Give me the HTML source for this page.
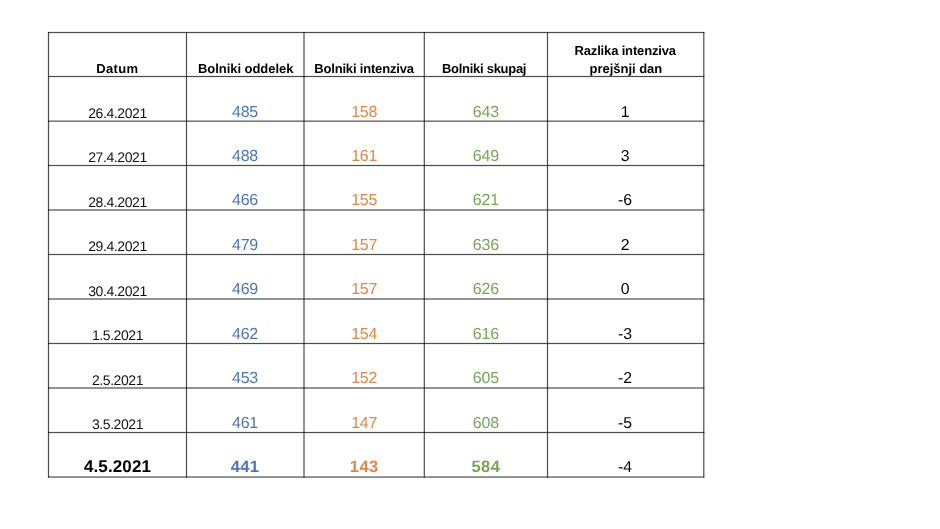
<!DOCTYPE html>
<html lang="sl"><head><meta charset="utf-8"><title>Bolniki</title>
<style>
html,body{margin:0;padding:0;background:#fff}
body{width:940px;height:529px;position:relative;overflow:hidden;font-family:"Liberation Sans",sans-serif;color:#111;text-rendering:geometricPrecision}
svg.grid{position:absolute;left:0;top:0}
.t{position:absolute;white-space:nowrap;transform:translateX(-50%);line-height:1;text-align:center}
.hd{font-weight:bold;font-size:13.0px;color:#000}
.d{font-size:14.0px;letter-spacing:-0.42px}
.n{font-size:16.0px;letter-spacing:-0.2px}
.r{font-size:15.8px;letter-spacing:0px;color:#000}
.b{color:#4d75ba}.o{color:#e38748}.g{color:#76a755}
.dL{font-weight:bold;font-size:17px;letter-spacing:0.12px;color:#000}
.nL{font-weight:bold;font-size:16.5px;letter-spacing:0.4px}

</style></head><body>
<svg class="grid" width="940" height="529" viewBox="0 0 940 529"><g fill="#000" fill-opacity="0.7">
<rect x="48.00" y="31.90" width="656.30" height="1.2"/>
<rect x="48.00" y="75.90" width="656.30" height="1.2"/>
<rect x="48.00" y="120.55" width="656.30" height="1.2"/>
<rect x="48.00" y="164.90" width="656.30" height="1.2"/>
<rect x="48.00" y="209.40" width="656.30" height="1.2"/>
<rect x="48.00" y="253.90" width="656.30" height="1.2"/>
<rect x="48.00" y="298.40" width="656.30" height="1.2"/>
<rect x="48.00" y="342.90" width="656.30" height="1.2"/>
<rect x="48.00" y="387.40" width="656.30" height="1.2"/>
<rect x="48.00" y="431.90" width="656.30" height="1.2"/>
<rect x="48.00" y="476.45" width="656.30" height="1.2"/>
<rect x="47.90" y="32.00" width="1.2" height="445.55"/>
<rect x="185.90" y="32.00" width="1.2" height="445.55"/>
<rect x="303.40" y="32.00" width="1.2" height="445.55"/>
<rect x="423.70" y="32.00" width="1.2" height="445.55"/>
<rect x="546.90" y="32.00" width="1.2" height="445.55"/>
<rect x="703.20" y="32.00" width="1.2" height="445.55"/>
</g></svg>
<div class="t hd" style="left:117.3px;top:62px;letter-spacing:0.35px">Datum</div>
<div class="t hd" style="left:245.7px;top:62px;letter-spacing:-0.05px">Bolniki oddelek</div>
<div class="t hd" style="left:364.0px;top:62px;letter-spacing:-0.18px">Bolniki intenziva</div>
<div class="t hd" style="left:484.1px;top:62px;letter-spacing:-0.28px">Bolniki skupaj</div>
<div class="t hd" style="left:625.2px;top:44px;letter-spacing:-0.16px">Razlika intenziva</div>
<div class="t hd" style="left:625.9px;top:62px;letter-spacing:-0.03px">prejšnji dan</div>
<div class="t d" style="left:117.5px;top:106px">26.4.2021</div>
<div class="t n b" style="left:245.0px;top:105px">485</div>
<div class="t n o" style="left:364.2px;top:105px">158</div>
<div class="t n g" style="left:485.9px;top:105px">643</div>
<div class="t r" style="left:625.1px;top:105px">1</div>
<div class="t d" style="left:117.5px;top:150px">27.4.2021</div>
<div class="t n b" style="left:245.0px;top:149px">488</div>
<div class="t n o" style="left:364.2px;top:149px">161</div>
<div class="t n g" style="left:485.9px;top:149px">649</div>
<div class="t r" style="left:625.1px;top:149px">3</div>
<div class="t d" style="left:117.5px;top:195px">28.4.2021</div>
<div class="t n b" style="left:245.0px;top:193px">466</div>
<div class="t n o" style="left:364.2px;top:193px">155</div>
<div class="t n g" style="left:485.9px;top:193px">621</div>
<div class="t r" style="left:625.1px;top:193px">-6</div>
<div class="t d" style="left:117.5px;top:239px">29.4.2021</div>
<div class="t n b" style="left:245.0px;top:238px">479</div>
<div class="t n o" style="left:364.2px;top:238px">157</div>
<div class="t n g" style="left:485.9px;top:238px">636</div>
<div class="t r" style="left:625.1px;top:238px">2</div>
<div class="t d" style="left:117.5px;top:284px">30.4.2021</div>
<div class="t n b" style="left:245.0px;top:282px">469</div>
<div class="t n o" style="left:364.2px;top:282px">157</div>
<div class="t n g" style="left:485.9px;top:282px">626</div>
<div class="t r" style="left:625.1px;top:282px">0</div>
<div class="t d" style="left:117.5px;top:328px">1.5.2021</div>
<div class="t n b" style="left:245.0px;top:327px">462</div>
<div class="t n o" style="left:364.2px;top:327px">154</div>
<div class="t n g" style="left:485.9px;top:327px">616</div>
<div class="t r" style="left:625.1px;top:327px">-3</div>
<div class="t d" style="left:117.5px;top:373px">2.5.2021</div>
<div class="t n b" style="left:245.0px;top:371px">453</div>
<div class="t n o" style="left:364.2px;top:371px">152</div>
<div class="t n g" style="left:485.9px;top:371px">605</div>
<div class="t r" style="left:625.1px;top:371px">-2</div>
<div class="t d" style="left:117.5px;top:417px">3.5.2021</div>
<div class="t n b" style="left:245.0px;top:416px">461</div>
<div class="t n o" style="left:364.2px;top:416px">147</div>
<div class="t n g" style="left:485.9px;top:416px">608</div>
<div class="t r" style="left:625.1px;top:416px">-5</div>
<div class="t dL" style="left:117.5px;top:458px">4.5.2021</div>
<div class="t nL b" style="left:245.0px;top:459px">441</div>
<div class="t nL o" style="left:364.2px;top:459px">143</div>
<div class="t nL g" style="left:485.9px;top:459px">584</div>
<div class="t r" style="left:625.1px;top:460px">-4</div>
</body></html>
